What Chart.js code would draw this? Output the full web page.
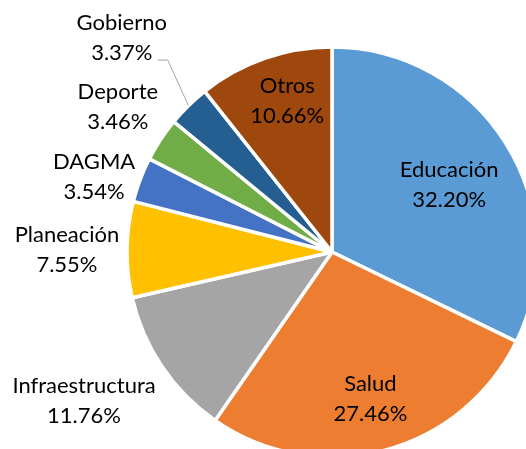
<!DOCTYPE html>
<html>
<head>
<meta charset="utf-8">
<script src="https://cdn.jsdelivr.net/npm/chart.js@4.4.1/dist/chart.umd.min.js"></script>
<style>
  html, body { margin: 0; padding: 0; background: #fff; overflow: hidden; width: 526px; height: 449px; }
  #wrap { position: absolute; left: 0; top: 0; width: 664px; height: 504px; }
</style>
</head>
<body>
<div id="wrap"><canvas id="pie"></canvas></div>
<script>
const categories = ['Educación', 'Salud', 'Infraestructura', 'Planeación', 'DAGMA', 'Deporte', 'Gobierno', 'Otros'];
const shares = [32.20, 27.46, 11.76, 7.55, 3.54, 3.46, 3.37, 10.66];
const colors = ['#5B9BD5', '#ED7D31', '#A5A5A5', '#FFC000', '#4472C4', '#70AD47', '#255E91', '#9E480E'];

// posición de etiquetas: factor radial + ajuste fino
const labelRadius = [0.657, 0.740, 1.407, 1.293, 1.214, 1.261, 1.465, 0.768];
const labelNudge = [[3, 4], [0, 0], [-9, -13], [0, 1], [-5, 13], [2, -3], [0, 0], [7, -2]];
const leaderLines = [6]; // Gobierno lleva línea guía

const pieLabels = {
  id: 'pieLabels',
  afterDatasetsDraw(chart) {
    const ctx = chart.ctx;
    const meta = chart.getDatasetMeta(0);
    ctx.save();
    ctx.font = '22px Lato';
    ctx.fillStyle = '#000';
    ctx.textAlign = 'center';
    ctx.textBaseline = 'middle';
    meta.data.forEach((arc, i) => {
      const p = arc.getProps(['x', 'y', 'startAngle', 'endAngle', 'outerRadius'], true);
      const mid = (p.startAngle + p.endAngle) / 2;
      const f = labelRadius[i];
      const lx = p.x + Math.cos(mid) * p.outerRadius * f + labelNudge[i][0];
      const ly = p.y + Math.sin(mid) * p.outerRadius * f + labelNudge[i][1];
      if (leaderLines.includes(i)) {
        ctx.save();
        ctx.strokeStyle = '#A6A6A6';
        ctx.lineWidth = 1;
        ctx.beginPath();
        ctx.moveTo(p.x + Math.cos(mid) * p.outerRadius, p.y + Math.sin(mid) * p.outerRadius);
        ctx.lineTo(lx + 46, ly + 22.5);
        ctx.lineTo(lx + 36, ly + 22.5);
        ctx.stroke();
        ctx.restore();
      }
      ctx.fillText(categories[i], lx, ly - 15);
      ctx.fillText(shares[i].toFixed(2) + '%', lx, ly + 15);
    });
    ctx.restore();
  }
};

new Chart(document.getElementById('pie').getContext('2d'), {
  type: 'pie',
  data: {
    labels: categories,
    datasets: [{
      data: shares,
      backgroundColor: colors,
      borderColor: '#fff',
      borderWidth: 3.5,
      radius: 205,
    }],
  },
  options: {
    responsive: true,
    maintainAspectRatio: false,
    animation: false,
    layout: { padding: 0 },
    plugins: {
      legend: { display: false },
      tooltip: { enabled: false },
    },
  },
  plugins: [pieLabels],
});
</script>
</body>
</html>
